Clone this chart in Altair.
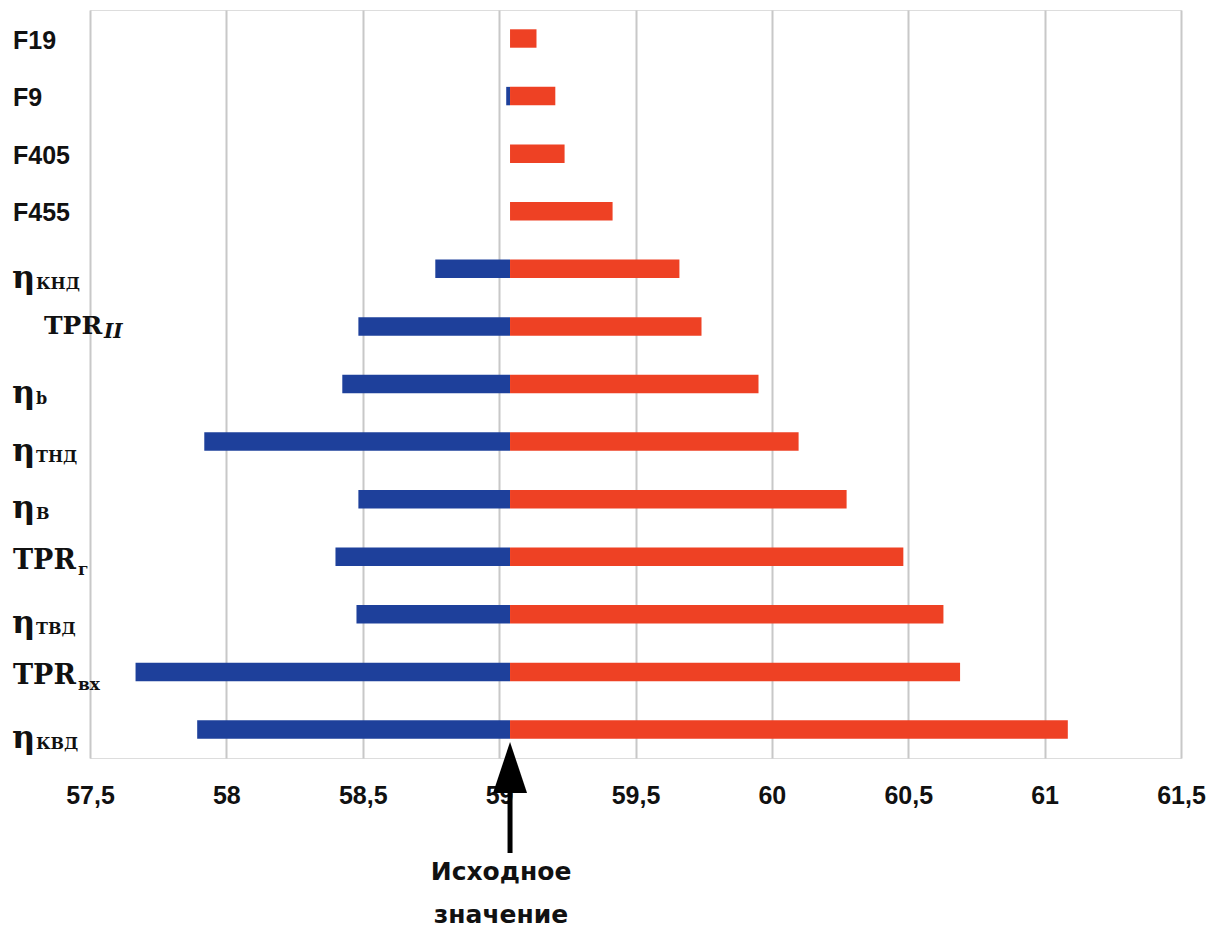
import altair as alt
import pandas as pd

# ---- data ----
keys = ["F19", "F9", "F405", "F455", "ηКНД", "TPR_II", "ηb", "ηТНД", "ηВ", "TPRг", "ηТВД", "TPRвх", "ηКВД"]
main_text = ["F19", "F9", "F405", "F455", "η", "TPR", "η", "η", "η", "TPR", "η", "TPR", "η"]
sub_text = ["", "", "", "", "КНД", "II", "b", "ТНД", "В", "г", "ТВД", "вх", "КВД"]
kinds = ["F", "F", "F", "F", "eta", "tpr2", "eta", "eta", "eta", "tpr", "eta", "tpr", "eta"]
low_values = [59.04, 59.026, 59.04, 59.04, 58.766, 58.484, 58.425, 57.919, 58.484, 58.40, 58.477, 57.667, 57.893]
high_values = [59.137, 59.206, 59.24, 59.416, 59.661, 59.742, 59.951, 60.098, 60.274, 60.482, 60.629, 60.69, 61.085]
base_value = 59.04
x_ticks = [57.5, 58, 58.5, 59, 59.5, 60, 60.5, 61, 61.5]
annotation_lines = ["Исходное", "значение"]

BLUE = "#1E409B"
RED = "#EE4124"

df = pd.DataFrame({
    "key": keys, "main": main_text, "sub": sub_text, "kind": kinds,
    "low": low_values, "high": high_values, "base": [base_value] * len(keys),
})
base_df = pd.DataFrame({"base": [base_value]})
ann_df = pd.DataFrame({"base": [base_value] * 2, "line": annotation_lines, "idx": [0, 1]})

x_scale = alt.Scale(domain=[57.5, 61.5], nice=False, zero=False)
y_enc = alt.Y("key:N", sort=keys, axis=None,
              scale=alt.Scale(paddingInner=0.68, paddingOuter=0.335))

x_axis = alt.Axis(values=x_ticks, grid=True, gridColor="#c8c8c8", gridWidth=2,
                  ticks=False, tickSize=0, domain=False, title=None,
                  labelExpr="replace(toString(datum.value), '.', ',')",
                  labelFont="Liberation Sans", labelFontWeight="bold",
                  labelFontSize=25, labelColor="#111111", labelPadding=25,
                  labelFlush=False, labelOverlap=False)

base = alt.Chart(df)

blue_bars = base.mark_bar(color=BLUE).encode(
    x=alt.X("low:Q", scale=x_scale, axis=x_axis),
    x2="base:Q",
    y=y_enc,
)
red_bars = base.mark_bar(color=RED).encode(
    x=alt.X("base:Q", scale=x_scale),
    x2="high:Q",
    y=y_enc,
)

def label_layer(kind, field, xpix, font, size, dy, style="normal"):
    return base.transform_filter(alt.datum.kind == kind).mark_text(
        align="left", baseline="alphabetic", font=font, fontSize=size,
        fontWeight="bold", fontStyle=style, color="#111111", dy=dy,
    ).encode(x=alt.value(xpix), y=y_enc, text=f"{field}:N")

labels = [
    label_layer("F", "main", -77, "Liberation Sans", 25, 10),
    label_layer("eta", "main", -78, "DejaVu Serif", 32, 19),
    label_layer("eta", "sub", -54, "DejaVu Serif", 16, 20),
    label_layer("tpr", "main", -77, "DejaVu Serif", 27, 12),
    label_layer("tpr", "sub", -12, "DejaVu Serif", 17, 18),
    label_layer("tpr2", "main", -46, "DejaVu Serif", 25, 8),
    label_layer("tpr2", "sub", 14, "DejaVu Serif", 20, 12, "italic"),
]

shaft = alt.Chart(base_df).mark_rule(color="black", strokeWidth=5).encode(
    x=alt.X("base:Q", scale=x_scale),
    y=alt.value(783),
    y2=alt.value(843),
)
head = alt.Chart(base_df).mark_point(
    shape="M0,-1L0.667,1L-0.667,1Z", filled=True, size=2601,
    color="black", opacity=1, strokeWidth=0,
).encode(
    x=alt.X("base:Q", scale=x_scale),
    y=alt.value(757.5),
)
ann1 = alt.Chart(ann_df).transform_filter(alt.datum.idx == 0).mark_text(
    font="DejaVu Sans", fontWeight="bold", fontSize=25, color="#111111",
    align="center", baseline="alphabetic", dx=-9,
).encode(x=alt.X("base:Q", scale=x_scale), y=alt.value(870), text="line:N")
ann2 = alt.Chart(ann_df).transform_filter(alt.datum.idx == 1).mark_text(
    font="DejaVu Sans", fontWeight="bold", fontSize=25, color="#111111",
    align="center", baseline="alphabetic", dx=-9,
).encode(x=alt.X("base:Q", scale=x_scale), y=alt.value(913), text="line:N")

chart = alt.layer(blue_bars, red_bars, *labels, shaft, head, ann1, ann2).properties(
    width=1091, height=748,
    autosize=alt.AutoSizeParams(type="none"),
    padding={"left": 82, "top": 2, "right": 25, "bottom": 170},
).configure_view(stroke=None).configure(background="white")

chart.save("out.html", embed_options={"renderer": "svg", "actions": False})
